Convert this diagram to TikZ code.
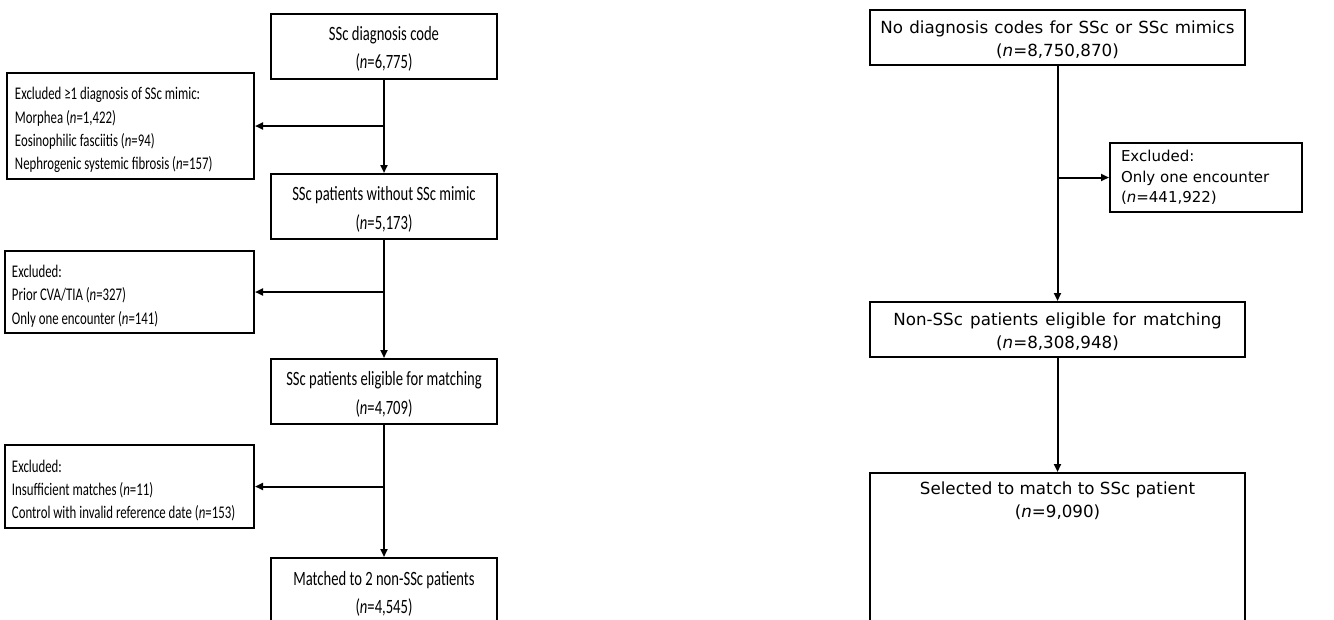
\documentclass[tikz,border=0pt]{standalone}
\usepackage{fontspec}
\newfontfamily\lf[FakeStretch=0.72,WordSpace={1,0,0}]{Carlito}
\newfontfamily\rf{DejaVu Sans}
\usetikzlibrary{arrows.meta}
\begin{document}
\begin{tikzpicture}[x=1pt,y=-1pt,
  lbox/.style={draw, line width=2pt, text width=226pt, minimum height=65pt, inner sep=0pt, align=center, font=\lf\fontsize{20.3}{28.5}\selectfont, execute at begin node={\spaceskip=0pt\xspaceskip=0pt\rule{0pt}{1em}}},
  lexcl/.style={draw, line width=2pt, inner xsep=7pt, inner ysep=0pt, align=left, font=\lf\fontsize{17.8}{23.3}\selectfont, execute at begin node={\spaceskip=0pt\xspaceskip=0pt\rule{0pt}{1.15em}}},
  rbox/.style={draw, line width=2pt, text width=375pt, minimum height=55pt, inner sep=0pt, align=center, font=\rf\fontsize{16.7}{22.7}\selectfont, execute at begin node={\spaceskip=0pt\xspaceskip=0pt\rule{0pt}{1.06em}}},
  rexcl/.style={draw, line width=2pt, inner xsep=11pt, inner ysep=0pt, align=left, font=\rf\fontsize{15}{20.3}\selectfont, execute at begin node={\spaceskip=0pt\xspaceskip=0pt}},
  rtext/.style={inner sep=0pt, align=center, font=\rf\fontsize{16.7}{22.7}\selectfont},
  arr/.style={line width=2pt, -{Triangle[length=8pt,width=7pt]}}
]
\useasboundingbox (0,0) rectangle (1334,619);
\clip (0,0) rectangle (1334,619);
\fill[white] (0,0) rectangle (1334,619);

% left column
\node[lbox] (b1) at (384,46) {SSc diagnosis code\\(\textit{n}=6,775)};
\node[lbox] (b2) at (384,206.5) {SSc patients without SSc mimic\\(\textit{n}=5,173)};
\node[lbox] (b3) at (384,391.5) {SSc patients eligible for matching\\(\textit{n}=4,709)};
\node[lbox] (b4) at (384,590.5) {Matched to 2 non-SSc patients\\(\textit{n}=4,545)};

\node[lexcl, inner xsep=8pt, text width=231pt, minimum height=106pt] (e1) at (130.5,126) {Excluded ≥1 diagnosis of SSc mimic:\\Morphea (\textit{n}=1,422)\\Eosinophilic fasciitis (\textit{n}=94)\\Nephrogenic systemic fibrosis (\textit{n}=157)};
\node[lexcl, text width=235pt, minimum height=82pt] (e2) at (129.5,292) {Excluded:\\Prior CVA/TIA (\textit{n}=327)\\Only one encounter (\textit{n}=141)};
\node[lexcl, text width=235pt, minimum height=83pt] (e3) at (129.5,486.5) {Excluded:\\Insufficient matches (\textit{n}=11)\\Control with invalid reference date (\textit{n}=153)};

\draw[arr] (b1) -- (b2);
\draw[arr] (b2) -- (b3);
\draw[arr] (b3) -- (b4);
\coordinate (j1) at (b1.south |- e1.east);
\coordinate (j2) at (b2.south |- e2.east);
\coordinate (j3) at (b3.south |- e3.east);
\draw[arr] (j1) -- (e1.east);
\draw[arr] (j2) -- (e2.east);
\draw[arr] (j3) -- (e3.east);

% right column
\node[rbox] (r1) at (1057.5,37.5) {No diagnosis codes for SSc or SSc mimics\\(\textit{n}=8,750,870)};
\node[rbox] (r2) at (1057.5,329.5) {Non-SSc patients eligible for matching\\(\textit{n}=8,308,948)};
\node[draw, line width=2pt, minimum width=375pt, minimum height=200pt, anchor=north, inner sep=0pt] (r3) at (1057.5,472) {};
\node[rtext] (r3t) at (1057.5,501) {Selected to match to SSc patient\\(\textit{n}=9,090)};
\node[rexcl, text width=170pt, minimum height=69pt] (er) at (1206,177.5) {Excluded:\\Only one encounter\\(\textit{n}=441,922)};

\draw[arr] (r1) -- (r2);
\draw[arr] (r2) -- (r3.north);
\coordinate (jr) at (r1.south |- er.west);
\draw[arr] (jr) -- (er.west);
\end{tikzpicture}
\end{document}
